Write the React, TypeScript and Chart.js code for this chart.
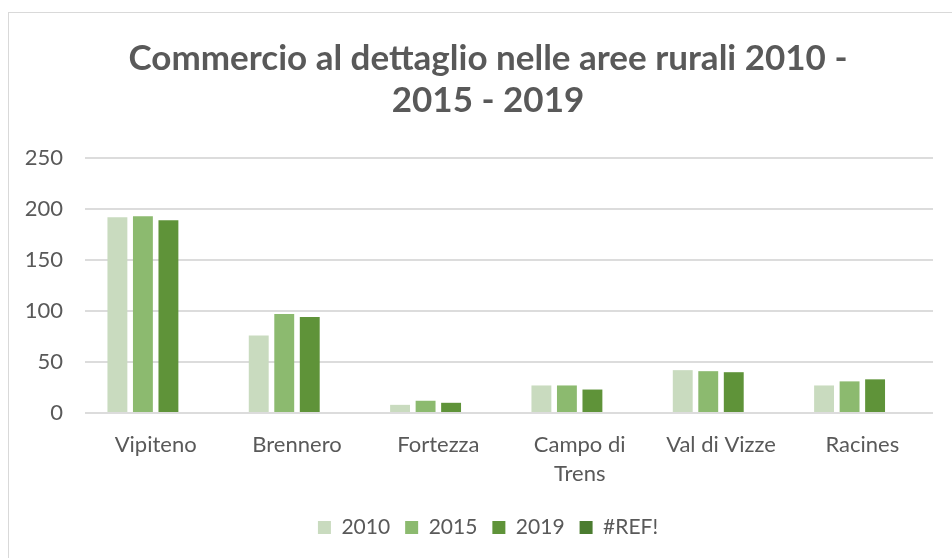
import React, { useEffect, useRef } from "react";
import { Chart, registerables } from "chart.js";

Chart.register(...registerables);

const categories: (string | string[])[] = [
  "Vipiteno",
  "Brennero",
  "Fortezza",
  ["Campo di", "Trens"],
  "Val di Vizze",
  "Racines",
];
const seriesNames = ["2010", "2015", "2019", "#REF!"];
const values2010 = [192, 76, 8, 27, 42, 27];
const values2015 = [193, 97, 12, 27, 41, 31];
const values2019 = [189, 94, 10, 23, 40, 33];
const valuesRef: (number | null)[] = [];
const yTicks = [0, 50, 100, 150, 200, 250];
const titleLines = ["Commercio al dettaglio nelle aree rurali 2010 -", "2015 - 2019"];

const colors = ["#c9dbbf", "#8cba6f", "#5f9339", "#4b7c30"];
const textColor = "#595959";
const FONT = "Lato, 'Open Sans', sans-serif";

export default function App() {
  const canvasRef = useRef<HTMLCanvasElement | null>(null);

  useEffect(() => {
    if (!canvasRef.current) return;
    const allSeries = [values2010, values2015, values2019, valuesRef];
    const chart = new Chart(canvasRef.current, {
      type: "bar",
      data: {
        labels: categories,
        datasets: allSeries.map((d, i) => ({
          label: seriesNames[i],
          data: d,
          backgroundColor: colors[i],
          borderWidth: 0,
          categoryPercentage: 0.722,
          barPercentage: 0.78,
        })),
      },
      options: {
        responsive: false,
        animation: false,
        layout: { padding: { left: 0, right: 0, top: 0, bottom: 10 } },
        plugins: {
          title: {
            display: true,
            text: titleLines,
            color: textColor,
            font: { family: FONT, size: 35, weight: "bold", lineHeight: 1.2 },
            padding: { top: 25, bottom: 36 },
          },
          legend: {
            position: "bottom",
            labels: {
              color: textColor,
              font: { family: FONT, size: 21 },
              boxWidth: 13,
              boxHeight: 13,
              padding: 15,
            },
          },
          tooltip: { enabled: false },
        },
        scales: {
          x: {
            grid: { display: false, drawTicks: false },
            border: { display: false },
            ticks: {
              color: textColor,
              font: { family: FONT, size: 22, lineHeight: 1.336 },
              padding: 17,
              maxRotation: 0,
              autoSkip: false,
            },
            afterFit: (scale: any) => {
              scale.height = 89;
            },
          },
          y: {
            min: 0,
            max: 250,
            afterBuildTicks: (scale: any) => {
              scale.ticks = yTicks.map((v) => ({ value: v }));
            },
            grid: { color: "#dcdcdc", lineWidth: 2, drawTicks: false },
            border: { display: false },
            ticks: {
              color: textColor,
              font: { family: FONT, size: 22 },
              padding: 22,
            },
            afterFit: (scale: any) => {
              scale.width = 76;
            },
          },
          yRight: {
            position: "right",
            display: true,
            grid: { display: false, drawTicks: false },
            border: { display: false },
            ticks: { display: false },
            afterFit: (scale: any) => {
              scale.width = 34;
            },
          },
        },
      },
    });
    return () => chart.destroy();
  }, []);

  return (
    <div style={{ position: "fixed", inset: 0, overflow: "hidden", background: "#fff" }}>
      <div
        style={{
          position: "absolute",
          left: 8,
          top: 12,
          width: 980,
          height: 600,
          borderLeft: "1px solid #d9d9d9",
          borderTop: "1px solid #d9d9d9",
        }}
      >
        <canvas ref={canvasRef} width={958} height={545} style={{ display: "block" }} />
      </div>
    </div>
  );
}
